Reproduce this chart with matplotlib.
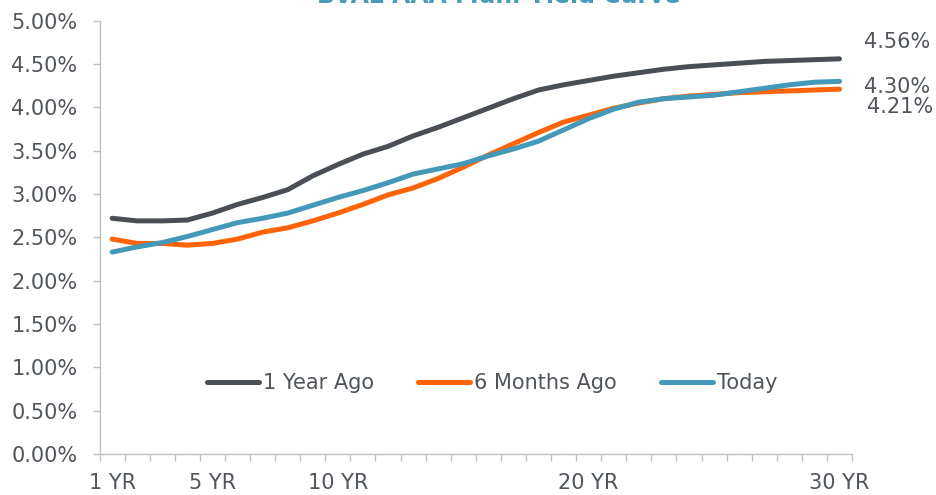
import matplotlib.pyplot as plt
from matplotlib.ticker import FuncFormatter

# yields by maturity (1..30 yr)
years = list(range(1, 31))

year_ago = [2.72, 2.69, 2.69, 2.70, 2.78, 2.88, 2.96, 3.05, 3.21, 3.34,
            3.46, 3.55, 3.67, 3.77, 3.88, 3.99, 4.10, 4.20, 4.26, 4.31,
            4.36, 4.40, 4.44, 4.47, 4.49, 4.51, 4.53, 4.54, 4.55, 4.56]

six_months_ago = [2.48, 2.43, 2.43, 2.41, 2.43, 2.48, 2.56, 2.61, 2.69, 2.78,
                  2.88, 2.99, 3.07, 3.18, 3.31, 3.45, 3.58, 3.71, 3.83, 3.91,
                  3.99, 4.05, 4.10, 4.13, 4.15, 4.17, 4.18, 4.19, 4.20, 4.21]

today = [2.33, 2.39, 2.44, 2.51, 2.59, 2.67, 2.72, 2.78, 2.87, 2.96,
         3.04, 3.13, 3.23, 3.29, 3.35, 3.44, 3.52, 3.61, 3.74, 3.87,
         3.98, 4.06, 4.10, 4.12, 4.14, 4.18, 4.22, 4.26, 4.29, 4.30]

series_names = ['1 Year Ago', '6 Months Ago', 'Today']
label_years = [1, 5, 10, 20, 30]
label_text = ['1 YR', '5 YR', '10 YR', '20 YR', '30 YR']

colors = ['#4A4F56', '#FF6308', '#4499B8']
text_color = '#50555B'
axis_color = '#BFBFBF'

# the original text is wide, DejaVu gets closest to its footprint
plt.rcParams['font.family'] = ['DejaVu Sans']
fs = 15

fig = plt.figure(figsize=(9.36, 4.95), dpi=100)
ax = fig.add_axes([0.1064, 0.0828, 0.8039, 0.8754])

for name, vals, c in zip(series_names, [year_ago, six_months_ago, today], colors):
    ax.plot(years, vals, color=c, linewidth=3.6, solid_capstyle='round',
            solid_joinstyle='round', label=name)

ax.set_xlim(0.5, 30.5)
ax.set_ylim(0, 5)

# category style axis: tick marks between points, labels on a few of them
ax.set_xticks(label_years)
ax.set_xticklabels(label_text)
ax.set_xticks([y + 0.5 for y in [0] + years], minor=True)
ax.tick_params(axis='x', which='major', length=0, pad=14, labelsize=fs, labelcolor=text_color)
ax.tick_params(axis='x', which='minor', length=5, width=1, color=axis_color, direction='out')

ax.set_yticks([i * 0.5 for i in range(11)])
ax.yaxis.set_major_formatter(FuncFormatter(lambda v, p: f'{v:.2f}%'))
ax.tick_params(axis='y', length=5, width=1, color=axis_color, pad=11,
               labelsize=fs, labelcolor=text_color)

for s in ['top', 'right']:
    ax.spines[s].set_visible(False)
for s in ['left', 'bottom']:
    ax.spines[s].set_color(axis_color)
    ax.spines[s].set_linewidth(1)

# end-point labels
offsets = [(18, 12), (18, -4), (20, -13)]
for vals, off in zip([year_ago, today, six_months_ago], offsets):
    ax.annotate(f'{vals[-1]:.2f}%', xy=(years[-1], vals[-1]), xytext=off,
                textcoords='offset points', fontsize=fs, color=text_color,
                va='center', ha='left', annotation_clip=False)

leg = ax.legend(loc='center', bbox_to_anchor=(0.5215, 0.164), ncol=3, frameon=False,
                fontsize=fs, handlelength=2.5, handletextpad=0.2, columnspacing=2.1)
for t in leg.get_texts():
    t.set_color(text_color)

# title is clipped by the top edge in the original
fig.text(0.533, 0.993, 'BVAL AAA Muni Yield Curve', ha='center', va='baseline',
         fontsize=17, fontweight='bold', color='#4A9BBA')

fig.savefig('out.png', dpi=100)
